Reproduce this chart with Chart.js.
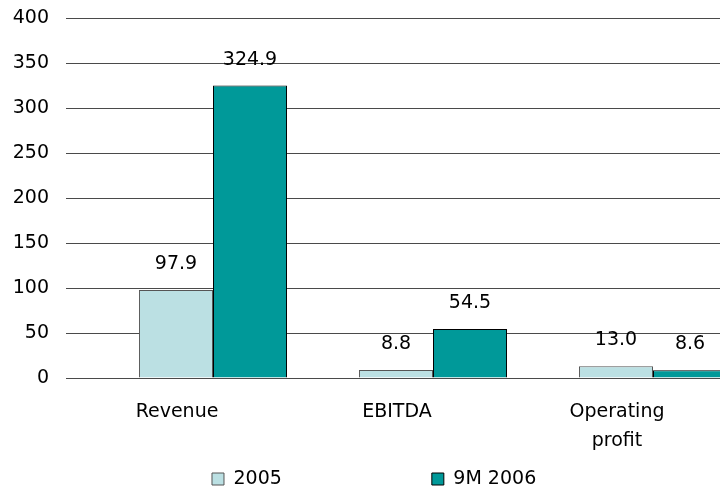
<!DOCTYPE html>
<html>
<head>
<meta charset="utf-8">
<script src="https://cdn.jsdelivr.net/npm/chart.js@4/dist/chart.umd.min.js"></script>
<style>
html, body { margin: 0; padding: 0; background: #fff; overflow: hidden; }
#wrap { width: 763px; height: 491px; position: relative; }
</style>
</head>
<body>
<div id="wrap"><canvas id="c"></canvas></div>
<script>
// ---- data ----
const categories = ['Revenue', 'EBITDA', ['Operating', 'profit']];
const seriesNames = ['2005', '9M 2006'];
const values2005 = [97.9, 8.8, 13.0];
const values9M2006 = [324.9, 54.5, 8.6];
const yMin = 0, yMax = 400, yStep = 50;

// ---- style ----
const FONT = '"DejaVu Sans", sans-serif';
Chart.defaults.font.family = FONT;
Chart.defaults.font.size = 19;
Chart.defaults.color = '#000';

const valueLabels = {
  id: 'valueLabels',
  afterDatasetsDraw(chart) {
    const ctx = chart.ctx;
    ctx.save();
    ctx.font = '19px ' + FONT;
    ctx.fillStyle = '#000';
    ctx.textAlign = 'center';
    ctx.textBaseline = 'middle';
    chart.data.datasets.forEach((ds, i) => {
      chart.getDatasetMeta(i).data.forEach((bar, j) => {
        ctx.fillText(ds.data[j].toFixed(1), bar.x, bar.y - 26);
      });
    });
    ctx.restore();
  }
};

// places the legend row where the reference shows it (wide item gap, small row height)
const legendPlace = {
  id: 'legendPlace',
  afterLayout(chart) {
    const lg = chart.legend;
    if (!lg) return;
    const pad = lg.options.labels.padding;
    lg.top = 469.5 - pad;          // items are drawn at top + padding
    lg.bottom = chart.height;      // keep the clip box covering the row
    lg.left -= 7.4; lg.right -= 7.4;
  }
};

new Chart(document.getElementById('c'), {
  type: 'bar',
  data: {
    labels: categories,
    datasets: [
      {
        label: seriesNames[0],
        data: values2005,
        backgroundColor: '#BBE0E3',
        borderColor: '#555',
        borderWidth: 1,
        categoryPercentage: 0.673,
        barPercentage: 1.0
      },
      {
        label: seriesNames[1],
        data: values9M2006,
        backgroundColor: '#009999',
        borderColor: '#000',
        borderWidth: 1,
        categoryPercentage: 0.673,
        barPercentage: 1.0
      }
    ]
  },
  options: {
    responsive: true,
    maintainAspectRatio: false,
    animation: false,
    layout: { padding: { top: 18, left: 0, right: 0, bottom: 0 } },
    plugins: {
      legend: {
        position: 'bottom',
        maxHeight: 33,
        labels: {
          boxWidth: 12,
          boxHeight: 12,
          padding: 150,
          color: '#000',
          font: { size: 19, family: FONT }
        }
      },
      tooltip: { enabled: false }
    },
    scales: {
      x: {
        grid: { display: false },
        border: { display: false },
        ticks: {
          labelOffset: -36,
          padding: 11,
          maxRotation: 0,
          autoSkip: false,
          font: { size: 19, family: FONT, lineHeight: 1.55 },
          color: '#000'
        },
        afterFit(scale) { scale.height = 80; }
      },
      y: {
        min: yMin,
        max: yMax,
        grid: { color: '#4a4a4a', lineWidth: 1, drawTicks: true, tickLength: 37 },
        border: { display: false },
        ticks: {
          stepSize: yStep,
          padding: 17,
          font: { size: 19, family: FONT },
          color: '#000'
        },
        afterFit(scale) {
          scale.width = 103;
          scale.paddingTop = 0;
          scale.paddingBottom = 0;
        }
      }
    }
  },
  plugins: [valueLabels, legendPlace]
});
</script>
</body>
</html>
